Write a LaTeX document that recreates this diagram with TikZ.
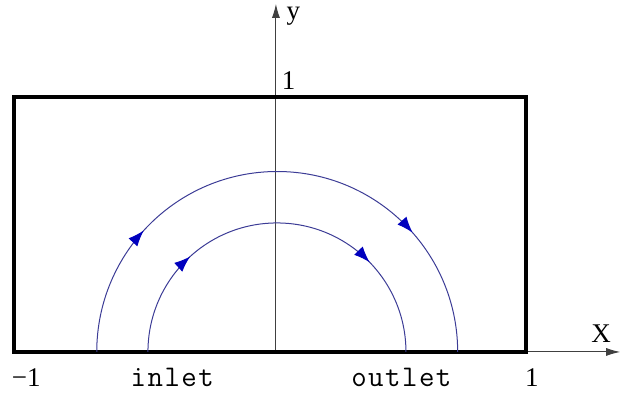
\documentclass[tikz,border=0pt]{standalone}
\usepackage{fontspec}
\setmainfont{Liberation Serif}
\newfontfamily\portfont{Latin Modern Mono}[LetterSpace=5]
\usetikzlibrary{arrows.meta, decorations.markings, positioning}
\definecolor{flowblue}{RGB}{0, 0, 190}
\definecolor{linenavy}{RGB}{60, 60, 150}
\tikzset{
    domainbox/.style={draw=black, line width=2pt},
    axisline/.style={-{Latex[length=7pt, width=4pt]}, draw=black!75, line width=0.5pt},
    streamline/.style 2 args={draw=linenavy, line width=0.5pt, postaction={decorate},
        decoration={markings,
            mark=at position #1 with {\arrow[flowblue]{Latex[length=8pt, width=6pt]}},
            mark=at position #2 with {\arrow[flowblue]{Latex[length=8pt, width=6pt]}}}},
    axislabel/.style={font=\fontsize{13.5}{16}\selectfont, inner sep=1pt},
    portlabel/.style={font=\fontsize{15}{16}\selectfont\portfont, inner sep=1pt},
}

\begin{document}
\begin{tikzpicture}[x=128pt, y=128pt]
    \useasboundingbox (-1.078, -0.164) rectangle (1.352, 1.375);

    % Origin and axis ends
    \coordinate (origin) at (0, 0);
    \coordinate (xend) at (1.345, 0);
    \coordinate (yend) at (0, 1.36);

    % Axes
    \draw[axisline] (origin) -- (xend);
    \draw[axisline] (origin) -- (yend);

    % Box
    \draw[domainbox] (-1.023, 0) rectangle (0.977, 0.998);

    % Streamlines
    \draw[streamline={0.235}{0.77}] (-0.70, 0) arc[start angle=180, end angle=0, radius=0.705];
    \draw[streamline={0.265}{0.755}] (-0.50, 0) arc[start angle=180, end angle=0, radius=0.504];

    % Labels
    \node[axislabel] (ylabel) at (0.068, 1.312) {y};
    \node[axislabel] (yone) at (0.05, 1.06) {1};
    \node[axislabel] (xlabel) at (1.27, 0.07) {X};
    \node[axislabel] (xminus) at (-0.975, -0.10) {−1};
    \node[axislabel] (xone) at (1.0, -0.10) {1};
    \node[portlabel] (inlet) at (-0.405, -0.10) {inlet};
    \node[portlabel] (outlet) at (0.49, -0.10) {outlet};
\end{tikzpicture}
\end{document}
